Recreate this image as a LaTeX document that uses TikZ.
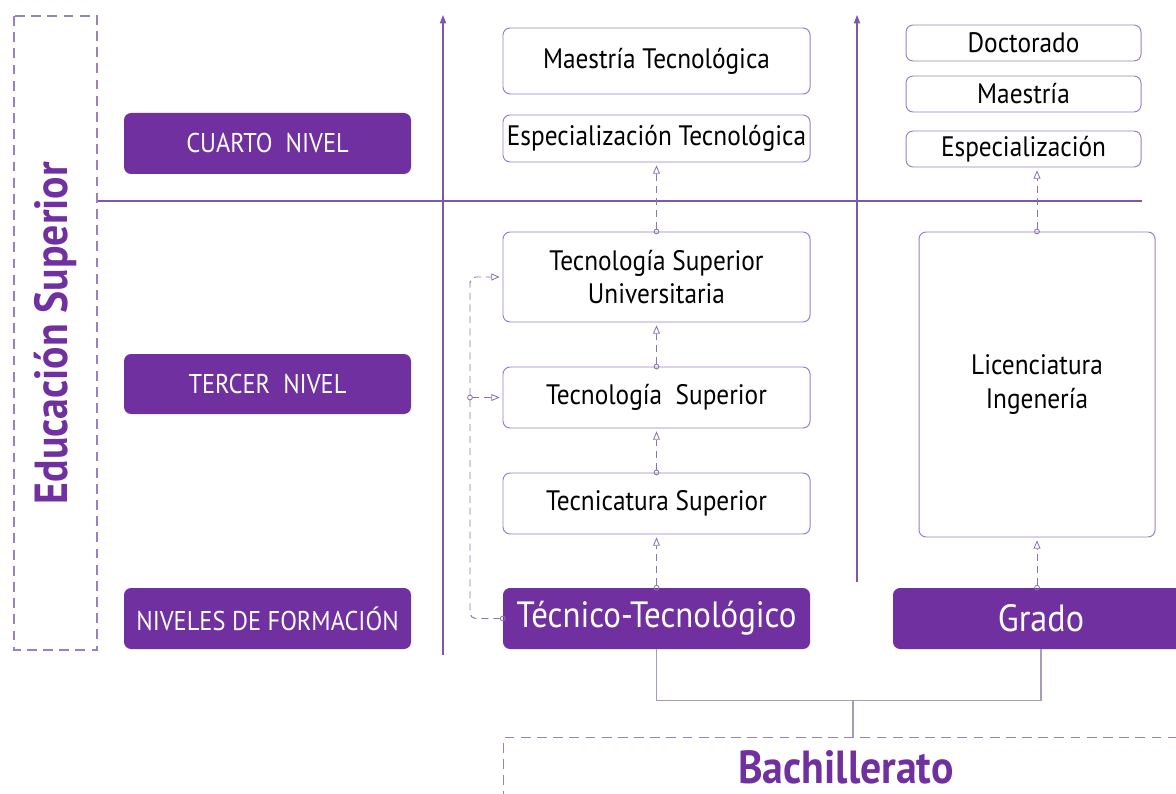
\documentclass[tikz,border=0pt]{standalone}
\usepackage{fontspec}
\setmainfont{PT Sans}[FakeStretch=0.9]
\usetikzlibrary{arrows.meta,calc}
\definecolor{morado}{HTML}{7030A0}
\definecolor{borde}{HTML}{9A80BE}
\definecolor{eje}{HTML}{7E57A8}
\definecolor{gris}{HTML}{A89BBA}
\begin{document}
\begin{tikzpicture}[x=0.025cm,y=-0.025cm,
    wh/.style 2 args={minimum width=#1*0.025cm,minimum height=#2*0.025cm},
    caja/.style={draw=borde,line width=0.7pt,rounded corners=5pt,fill=white,align=center,inner sep=0pt,font=\fontsize{20}{24}\selectfont},
    nivel/.style={fill=morado,text=white,rounded corners=5pt,inner sep=0pt,font=\fontsize{19.3}{23}\selectfont},
    enlace/.style={draw=borde!90!black,line width=0.7pt,dash pattern=on 5pt off 3.5pt,
      {Circle[open,length=4pt,width=4pt,line width=0.6pt]}-{Triangle[open,length=6pt,width=5pt,line width=0.6pt]},shorten >=2pt,shorten <=-2pt},
    eje/.style={draw=eje,line width=0.8pt},
    conn/.style={draw=gris,line width=0.8pt}]

    \useasboundingbox (0,0) rectangle (1176,794);

    % columna izquierda
    \node[draw=borde,line width=0.8pt,dash pattern=on 7pt off 4.5pt,rotate=90,wh={634}{83},
      text=morado,font=\fontsize{33}{36}\selectfont\bfseries] (edu) at (55.5,333) {Educación Superior};
    \node[nivel,wh={287}{61}] (cuarto) at (267.5,143.5) {CUARTO\ \ NIVEL};
    \node[nivel,wh={287}{60}] (tercer) at (267.5,384) {TERCER\ \ NIVEL};
    \node[nivel,wh={287}{61}] (niveles) at (267.5,618.5) {NIVELES DE FORMACIÓN};

    % ejes
    \draw[eje] (edu.south |- 0,201) -- (1142,201);
    \draw[eje,-{Triangle[length=6pt,width=4.5pt]}] (443,655) -- (443,15);
    \draw[eje,-{Triangle[length=6pt,width=4.5pt]}] (857,582) -- (857,15);

    % tecnico-tecnologico
    \node[caja,wh={307}{66}] (mt) at (656.5,61) {Maestría Tecnológica};
    \node[caja,wh={307}{47}] (et) at (656.5,138.5) {Especialización Tecnológica};
    \node[caja,wh={307}{90}] (tsu) at (656.5,277) {Tecnología Superior\\Universitaria};
    \node[caja,wh={307}{61}] (ts) at (656.5,397.5) {Tecnología\ \ Superior};
    \node[caja,wh={307}{61}] (tcs) at (656.5,503.5) {Tecnicatura Superior};
    \node[nivel,wh={307}{61},font=\fontsize{26}{30}\selectfont] (tec) at (656.5,618.5) {Técnico-Tecnológico};

    % grado
    \node[caja,wh={235}{36}] (doc) at (1023.5,43) {Doctorado};
    \node[caja,wh={235}{36}] (mae) at (1023.5,94) {Maestría};
    \node[caja,wh={235}{36}] (esp) at (1023.5,149) {Especialización};
    \node[caja,wh={236}{305}] (lic) at (1037,384.5) {Licenciatura\\Ingenería};
    \node[nivel,wh={296}{61},font=\fontsize{27}{30}\selectfont] (grado) at (1041,618.5) {Grado};

    % bachillerato
    \node[draw=borde,line width=0.8pt,dash pattern=on 7pt off 4.5pt,wh={684}{66},anchor=north west] (bach) at (503,737) {};
    \node[text=morado,font=\fontsize{33}{36}\selectfont\bfseries] (bachtxt) at (846,767) {Bachillerato};

    % enlaces
    \draw[enlace] (tec.north) -- (tcs.south);
    \draw[enlace] (tcs.north) -- (ts.south);
    \draw[enlace] (ts.north) -- (tsu.south);
    \draw[enlace] (tsu.north) -- (et.south);
    \draw[enlace] (lic.south |- grado.north) -- (lic.south);
    \draw[enlace] (lic.north) -- (lic.north |- esp.south);
    \coordinate (codo) at (470,397.5);
    \draw[enlace,rounded corners=4pt] (tec.west) -| (codo) |- (tsu.west);
    \draw[enlace] (codo) -- (ts.west);

    % union con bachillerato
    \draw[conn] (tec.south) -- ++(0,51) -| (grado.south);
    \draw[conn] (bach.north -| 853,0) -- ++(0,-37);
\end{tikzpicture}
\end{document}
